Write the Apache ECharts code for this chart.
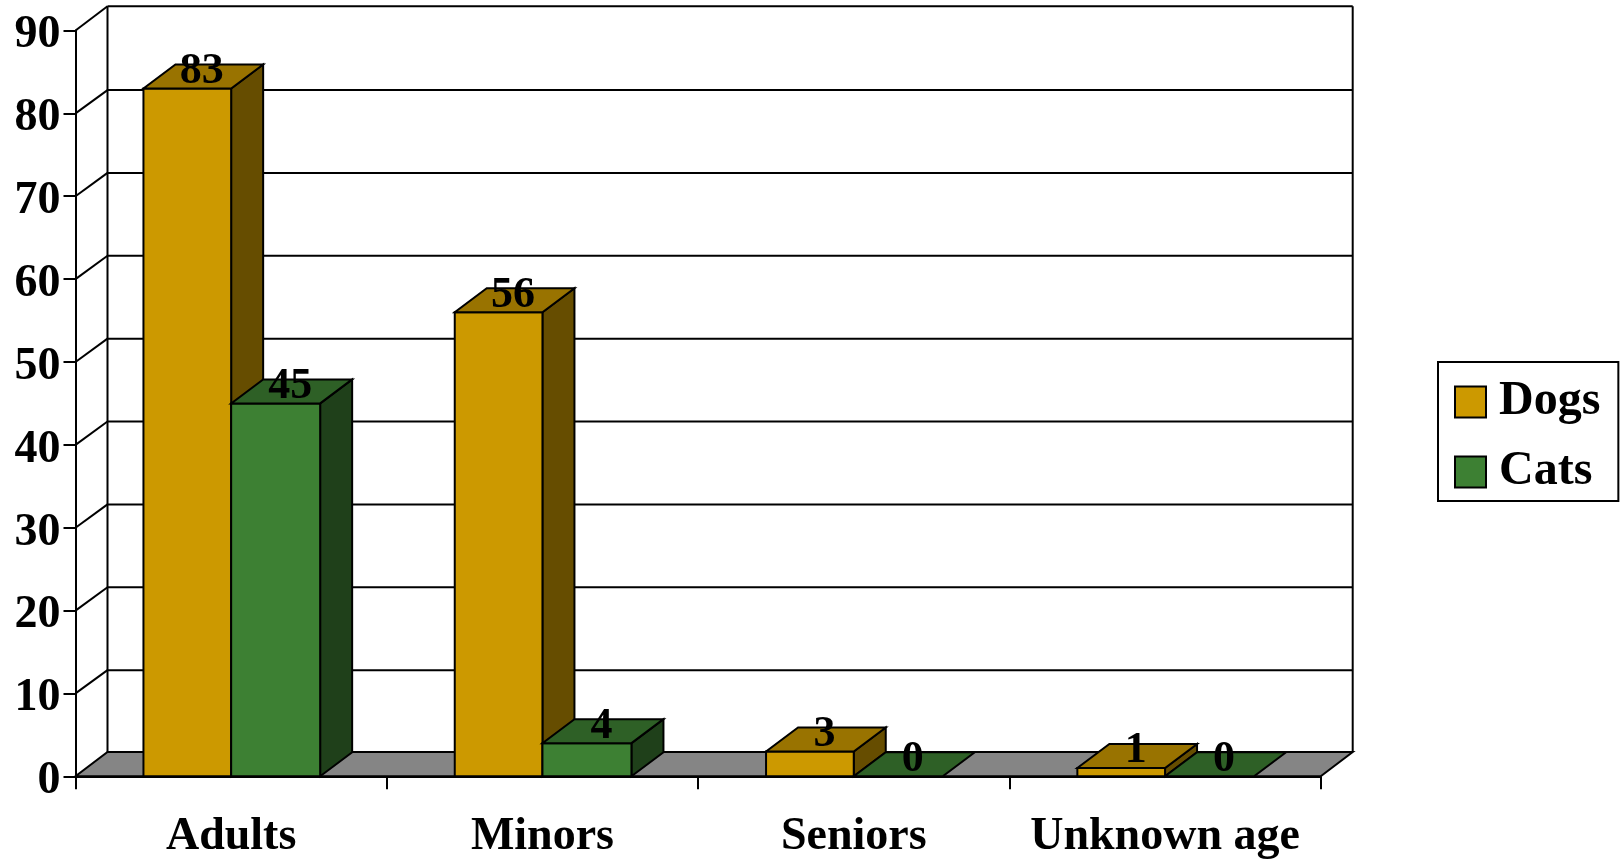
<!DOCTYPE html>
<html><head><meta charset="utf-8">
<style>html,body{margin:0;padding:0;background:#fff}#c{width:1622px;height:861px}</style>
<script src="https://cdn.jsdelivr.net/npm/echarts@6/dist/echarts.min.js"></script>
</head><body><div id="c"></div>
<script>
const categories = ['Adults', 'Minors', 'Seniors', 'Unknown age'];
const dogs = [83, 56, 3, 1];
const cats = [45, 4, 0, 0];
const yTicks = [0, 10, 20, 30, 40, 50, 60, 70, 80, 90];

const FONT = '"Liberation Serif", serif';
const DX = 32, DY = 24, WALL_DY = 23.3, EDGE_DY = 24.3, DOG_W = 87.7, CAT_W = 89, LW = 2;
const dogCols = ['#CC9900', '#997300', '#664D00'];
const catCols = ['#3D8033', '#2E6026', '#1F401A'];
const line = {stroke: '#000', lineWidth: LW, fill: 'none'};

function poly(points, fill) {
  return {type: 'polygon', shape: {points}, style: {fill, stroke: '#000', lineWidth: LW, lineJoin: 'miter'}};
}
function barRender(cols, side) {
  return function (params, api) {
    const p = api.coord([api.value(0), api.value(1)]);
    const b = api.coord([api.value(0), 0]);
    const l = side < 0 ? p[0] - DOG_W : p[0];
    const r = side < 0 ? p[0] : p[0] + CAT_W;
    const t = p[1], y0 = b[1];
    const children = [];
    if (y0 - t > 0.5) {
      children.push(poly([[r, y0], [r + DX, y0 - DY], [r + DX, t - DY], [r, t]], cols[2]));
      children.push(poly([[l, y0], [r, y0], [r, t], [l, t]], cols[0]));
    }
    children.push(poly([[l, t], [r, t], [r + DX, t - DY], [l + DX, t - DY]], cols[1]));
    children.push({type: 'text', z2: 10, style: {
      x: (l + r) / 2 + DX / 2 - 1.5, y: t - DY / 2 - 5, text: String(api.value(1)),
      font: 'bold 44px ' + FONT, fill: '#000', align: 'center', verticalAlign: 'middle'}});
    return {type: 'group', children};
  };
}
function wallRender(params, api) {
  const g = params.coordSys;
  const v = api.value(0);
  const y = api.coord([0, v])[1];
  const left = g.x, right = g.x + g.width;
  const dy = (v === 0 || v === 90) ? EDGE_DY : WALL_DY;
  const children = [];
  if (v === 0) {
    children.push({type: 'polygon', shape: {points: [[left, y], [right, y], [right + DX, y - dy], [left + DX, y - dy]]},
      style: {fill: '#858585', stroke: '#000', lineWidth: LW}});
    const topY = g.y - EDGE_DY;
    children.push({type: 'line', shape: {x1: left + DX, y1: y - dy, x2: left + DX, y2: topY}, style: line});
    children.push({type: 'line', shape: {x1: right + DX, y1: y - dy, x2: right + DX, y2: topY}, style: line});
  } else {
    children.push({type: 'line', shape: {x1: left, y1: y, x2: left + DX, y2: y - dy}, style: line});
    children.push({type: 'line', shape: {x1: left + DX, y1: y - dy, x2: right + DX, y2: y - dy}, style: line});
  }
  return {type: 'group', children};
}

const chart = echarts.init(document.getElementById('c'), null, {renderer: 'canvas'});
chart.setOption({
  animation: false,
  backgroundColor: '#fff',
  grid: {left: 75.5, right: 301.3, top: 30.5, bottom: 84.7, containLabel: false},
  legend: {
    left: 1438, top: 362, orient: 'vertical', align: 'left',
    data: ['Dogs', 'Cats'],
    icon: 'rect', itemWidth: 31, itemHeight: 31, itemGap: 22,
    padding: [16, 18, 5, 16],
    backgroundColor: '#fff', borderColor: '#000', borderWidth: LW,
    selectedMode: false,
    textStyle: {fontFamily: FONT, fontWeight: 'bold', fontSize: 48, color: '#000', padding: [0, 0, 6, 8]},
    itemStyle: {borderColor: '#000', borderWidth: LW}
  },
  xAxis: {
    type: 'category', data: categories, boundaryGap: true,
    axisLine: {show: true, lineStyle: {color: '#000', width: LW}},
    axisTick: {show: true, length: 13, alignWithLabel: false, lineStyle: {color: '#000', width: LW}},
    axisLabel: {fontFamily: FONT, fontWeight: 'bold', fontSize: 46, color: '#000', margin: 38, interval: 0},
    splitLine: {show: false}
  },
  yAxis: {
    type: 'value', min: 0, max: 90, interval: 10,
    axisLine: {show: true, onZero: false, lineStyle: {color: '#000', width: LW}},
    axisTick: {show: true, length: 12, lineStyle: {color: '#000', width: LW}},
    axisLabel: {fontFamily: FONT, fontWeight: 'bold', fontSize: 46, color: '#000', margin: 15, verticalAlign: 'top', lineHeight: 10},
    splitLine: {show: false}
  },
  series: [
    {type: 'custom', name: 'walls', data: yTicks.map(v => [v]), encode: {y: 0}, renderItem: wallRender, clip: false, z: 1, silent: true},
    {type: 'custom', name: 'Dogs', data: dogs.map((v, i) => [i, v]), encode: {x: 0, y: 1}, renderItem: barRender(dogCols, -1), clip: false, z: 2, itemStyle: {color: dogCols[0]}},
    {type: 'custom', name: 'Cats', data: cats.map((v, i) => [i, v]), encode: {x: 0, y: 1}, renderItem: barRender(catCols, 1), clip: false, z: 3, itemStyle: {color: catCols[0]}}
  ]
});
</script></body></html>
